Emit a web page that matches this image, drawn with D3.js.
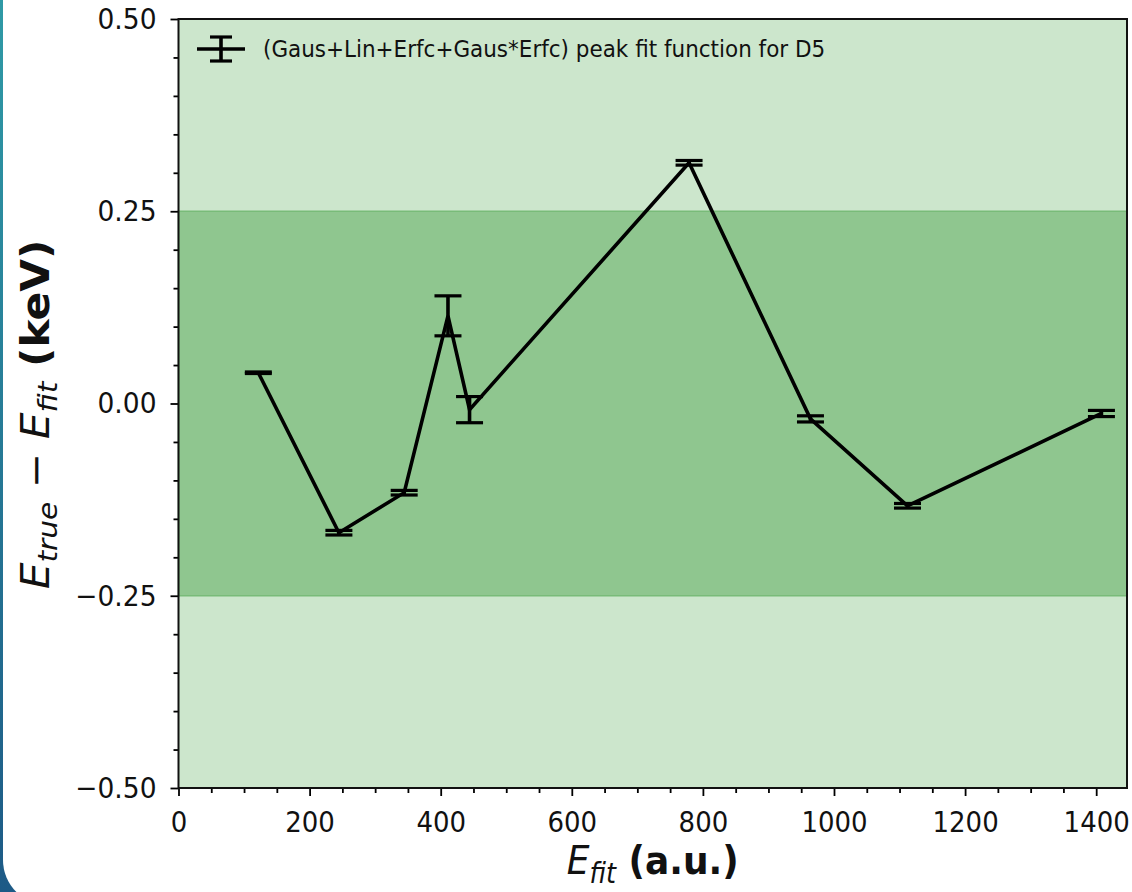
<!DOCTYPE html>
<html>
<head>
<meta charset="utf-8">
<script src="https://cdn.jsdelivr.net/npm/d3@7"></script>
<style>
  html, body { margin: 0; padding: 0; background: #ffffff; }
  svg { display: block; }
  text { font-family: "DejaVu Sans", sans-serif; }
</style>
</head>
<body>
<svg id="chart" width="1132" height="892"></svg>
<script>
// ---- data ----
const energies  = [121.8, 244.7, 344.3, 411.1, 444.0, 778.9, 964.1, 1112.1, 1408.0];
const residuals = [0.040, -0.168, -0.116, 0.114, -0.008, 0.313, -0.020, -0.133, -0.013];
const errors    = [0.001, 0.003, 0.003, 0.026, 0.017, 0.003, 0.004, 0.003, 0.004];
const xTicks = [0, 200, 400, 600, 800, 1000, 1200, 1400];
const xTickLabels = ["0", "200", "400", "600", "800", "1000", "1200", "1400"];
const yTicks = [-0.5, -0.25, 0, 0.25, 0.5];
const yTickLabels = ["\u22120.50", "\u22120.25", "0.00", "0.25", "0.50"];
const xDomain = [0, 1447];
const yDomain = [-0.5, 0.5];
const outerBand = [-0.5, 0.5];
const innerBand = [-0.25, 0.25];
const legendLabel = "(Gaus+Lin+Erfc+Gaus*Erfc) peak fit function for D5";

(function () {
// ---- layout ----
const svg = d3.select("#chart");
const W = 1132, H = 892;
const pL = 178.5, pR = 1127, pT = 19, pB = 788;
const stretch = 1.1;

// frame (slide border)
const defs = svg.append("defs");
const grad = defs.append("linearGradient").attr("id", "frameGrad")
  .attr("x1", 0).attr("y1", 0).attr("x2", 0).attr("y2", 1);
grad.append("stop").attr("offset", "0%").attr("stop-color", "#2f9aa6");
grad.append("stop").attr("offset", "100%").attr("stop-color", "#1d5a86");
svg.append("rect").attr("x", 0).attr("y", 0).attr("width", W).attr("height", H).attr("fill", "url(#frameGrad)");
svg.append("rect").attr("x", 3).attr("y", -60).attr("width", W + 60).attr("height", H + 73)
  .attr("rx", 45).attr("ry", 45).attr("fill", "#ffffff");

const x = d3.scaleLinear().domain(xDomain).range([pL, pR]);
const y = d3.scaleLinear().domain(yDomain).range([pB, pT]);

const g = svg.append("g");

// bands
g.append("rect")
  .attr("x", x(xDomain[0])).attr("width", x(xDomain[1]) - x(xDomain[0]))
  .attr("y", y(outerBand[1])).attr("height", y(outerBand[0]) - y(outerBand[1]))
  .attr("fill", "#cce6cc");
g.append("rect")
  .attr("x", x(xDomain[0])).attr("width", x(xDomain[1]) - x(xDomain[0]))
  .attr("y", y(innerBand[1])).attr("height", y(innerBand[0]) - y(innerBand[1]))
  .attr("fill", "#8fc68f")
  .attr("stroke", "#79bb79").attr("stroke-width", 1.5);

// axes
const xAxis = d3.axisBottom(x).tickValues(xTicks).tickFormat((d, i) => xTickLabels[i]).tickSize(8).tickPadding(8);
const xMinor = d3.axisBottom(x).tickValues(d3.range(0, 1447, 50).filter(v => v % 200 !== 0)).tickFormat("").tickSize(5);
const yAxis = d3.axisLeft(y).tickValues(yTicks).tickFormat((d, i) => yTickLabels[i]).tickSize(8).tickPadding(14);
const yMinor = d3.axisLeft(y).tickValues(d3.range(-9, 10).map(k => k * 0.05).filter(v => Math.abs(Math.round(v * 100)) % 25 !== 0)).tickFormat("").tickSize(5);

function styleAxis(sel, fs) {
  sel.select(".domain").remove();
  sel.selectAll("line").attr("stroke", "#000").attr("stroke-width", 1.8);
  sel.selectAll("text").attr("font-size", fs).attr("fill", "#111").attr("font-family", "DejaVu Sans");
}
g.append("g").attr("transform", `translate(0,${pB})`).call(xMinor).call(s => styleAxis(s, 0));
g.append("g").attr("transform", `translate(0,${pB})`).call(xAxis).call(s => styleAxis(s, 26))
  .call(s => s.selectAll("text").attr("dy", 0).attr("y", 44)
    .attr("transform", `translate(0,44) scale(1,${stretch}) translate(0,-44)`));
g.append("g").attr("transform", `translate(${pL},0)`).call(yMinor).call(s => styleAxis(s, 0));
g.append("g").attr("transform", `translate(${pL},0)`).call(yAxis).call(s => styleAxis(s, 26.5))
  .call(s => s.selectAll("text").attr("transform", `scale(1,${stretch})`));

// data line
const pts = energies.map((e, i) => ({ x: e, y: residuals[i], err: errors[i] }));
g.append("path").datum(pts)
  .attr("d", d3.line().x(d => x(d.x)).y(d => y(d.y)))
  .attr("fill", "none").attr("stroke", "#000").attr("stroke-width", 3.6).attr("stroke-linejoin", "miter");

// error bars
const cap = 13.5;
const eb = g.append("g").selectAll("g").data(pts).join("g");
eb.append("line").attr("x1", d => x(d.x)).attr("x2", d => x(d.x))
  .attr("y1", d => y(d.y - d.err)).attr("y2", d => y(d.y + d.err))
  .attr("stroke", "#000").attr("stroke-width", 3.6);
eb.append("line").attr("x1", d => x(d.x) - cap).attr("x2", d => x(d.x) + cap)
  .attr("y1", d => y(d.y + d.err)).attr("y2", d => y(d.y + d.err))
  .attr("stroke", "#000").attr("stroke-width", 3.2);
eb.append("line").attr("x1", d => x(d.x) - cap).attr("x2", d => x(d.x) + cap)
  .attr("y1", d => y(d.y - d.err)).attr("y2", d => y(d.y - d.err))
  .attr("stroke", "#000").attr("stroke-width", 3.2);

// spines
g.append("rect").attr("x", pL).attr("y", pT).attr("width", pR - pL).attr("height", pB - pT)
  .attr("fill", "none").attr("stroke", "#111").attr("stroke-width", 2);

// legend
const lg = g.append("g");
const ly = 49, lcx = 221;
lg.append("line").attr("x1", lcx - 24).attr("x2", lcx + 24).attr("y1", ly).attr("y2", ly).attr("stroke", "#000").attr("stroke-width", 3.6);
lg.append("line").attr("x1", lcx).attr("x2", lcx).attr("y1", ly - 12).attr("y2", ly + 12).attr("stroke", "#000").attr("stroke-width", 3.6);
lg.append("line").attr("x1", lcx - 11).attr("x2", lcx + 11).attr("y1", ly - 12).attr("y2", ly - 12).attr("stroke", "#000").attr("stroke-width", 3.2);
lg.append("line").attr("x1", lcx - 11).attr("x2", lcx + 11).attr("y1", ly + 12).attr("y2", ly + 12).attr("stroke", "#000").attr("stroke-width", 3.2);
lg.append("text").attr("x", 263).attr("y", ly + 7.5).attr("font-size", 21.5).attr("fill", "#111")
  .attr("transform", `translate(0,${ly}) scale(1,${stretch}) translate(0,${-ly})`).text(legendLabel);

// x label
const fs = 36, sub = 25.5, sh = 8;
const xlY = 873, xlC = 861;
const xl = svg.append("text").attr("x", (pL + pR) / 2).attr("y", xlY).attr("text-anchor", "middle").attr("font-size", fs).attr("fill", "#111")
  .attr("transform", `translate(0,${xlC}) scale(1,${stretch}) translate(0,${-xlC})`);
xl.append("tspan").attr("font-style", "italic").text("E");
xl.append("tspan").attr("font-style", "italic").attr("font-size", sub).attr("dy", sh).text("fit");
xl.append("tspan").attr("font-weight", "bold").attr("dy", -sh).text("\u00a0(a.u.)");

// y label
const yfs = 38.5, ysub = 27, ysh = 8;
const yl = svg.append("text").attr("transform", `translate(49,${(pT + pB) / 2 + 11}) rotate(-90) scale(${stretch},1)`)
  .attr("text-anchor", "middle").attr("font-size", yfs).attr("fill", "#111");
yl.append("tspan").attr("font-style", "italic").text("E");
yl.append("tspan").attr("font-style", "italic").attr("font-size", ysub).attr("dy", ysh).text("true");
yl.append("tspan").attr("dy", -ysh).text("\u00a0\u2212\u00a0");
yl.append("tspan").attr("font-style", "italic").text("E");
yl.append("tspan").attr("font-style", "italic").attr("font-size", ysub).attr("dy", ysh).text("fit");
yl.append("tspan").attr("font-weight", "bold").attr("dy", -ysh).text("\u00a0(keV)");
})();
</script>
</body>
</html>
